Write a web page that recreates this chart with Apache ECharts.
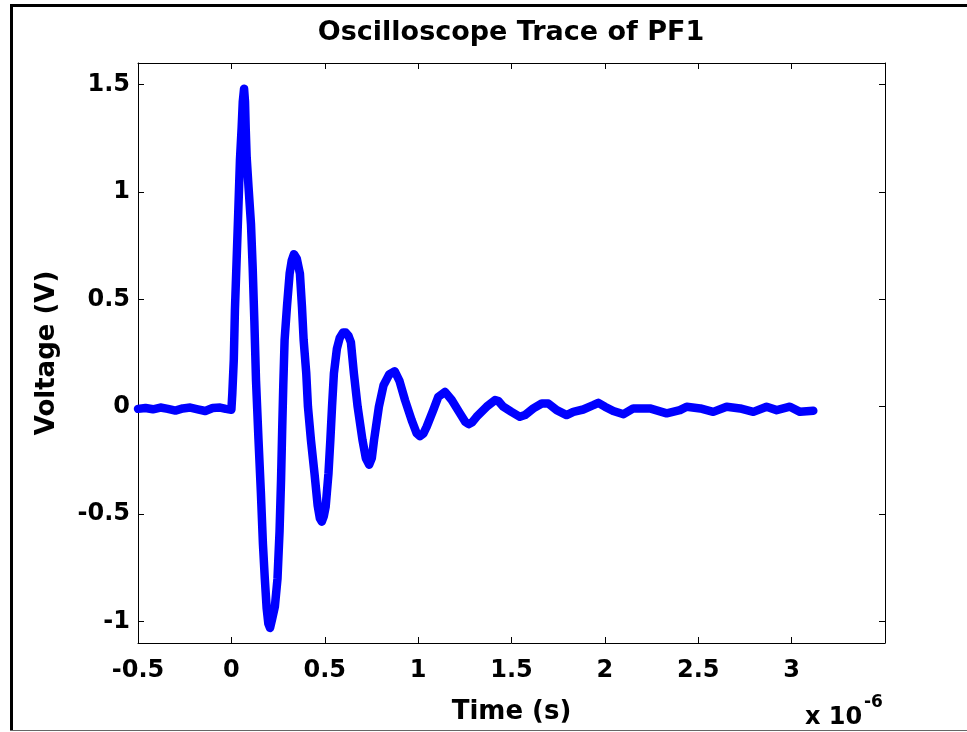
<!DOCTYPE html>
<html lang="en">

<head>
    <meta charset="UTF-8">
    <title>Oscilloscope Trace of PF1</title>
    <script src="https://cdn.jsdelivr.net/npm/echarts@6/dist/echarts.min.js"></script>
    <style>
        html, body { margin: 0; padding: 0; background: #fff; }
        #myChart { width: 967px; height: 732px; }
    </style>
</head>

<body>
    <div id="myChart"></div>
    <script>
        // time in microseconds (axis shows x 10^-6 s), voltage in V
        const timeUs = [
            -0.50, -0.46, -0.42, -0.38, -0.34, -0.30, -0.26, -0.22, -0.18, -0.14, -0.10, -0.06, -0.03,
            0.000, 0.005, 0.013, 0.019, 0.028, 0.037, 0.046, 0.055, 0.061, 0.068, 0.073, 0.077, 0.082,
            0.092, 0.105, 0.114, 0.123, 0.132, 0.145, 0.158, 0.169, 0.179, 0.189, 0.198, 0.207, 0.218,
            0.233, 0.247, 0.258, 0.266, 0.272, 0.278, 0.285, 0.298, 0.312, 0.323, 0.335, 0.350, 0.367,
            0.378, 0.387, 0.401, 0.410, 0.426, 0.445, 0.462, 0.474, 0.484, 0.495, 0.505, 0.520, 0.530,
            0.539, 0.549, 0.565, 0.580, 0.598, 0.612, 0.627, 0.640, 0.656, 0.676, 0.702, 0.720, 0.738,
            0.752, 0.764, 0.790, 0.815, 0.845, 0.875, 0.900, 0.930, 0.965, 0.992, 1.010, 1.028, 1.046,
            1.081, 1.108, 1.144, 1.180, 1.224, 1.252, 1.270, 1.290, 1.313, 1.367, 1.412, 1.430, 1.456,
            1.500, 1.545, 1.572, 1.617, 1.662, 1.697, 1.742, 1.795, 1.831, 1.884, 1.938, 1.965, 2.000,
            2.045, 2.100, 2.152, 2.241, 2.331, 2.402, 2.438, 2.511, 2.580, 2.652, 2.724, 2.795, 2.866,
            2.920, 2.991, 3.045, 3.116
        ];
        const voltage = [
            -0.010, -0.006, -0.012, -0.004, -0.010, -0.018, -0.008, -0.004, -0.012, -0.020, -0.006, -0.004, -0.010,
            -0.014, 0.06, 0.22, 0.45, 0.68, 0.91, 1.15, 1.30, 1.42, 1.48, 1.42, 1.29, 1.16,
            1.02, 0.85, 0.65, 0.40, 0.12, -0.15, -0.40, -0.64, -0.80, -0.94, -1.01, -1.03, -0.99,
            -0.93, -0.80, -0.58, -0.34, -0.11, 0.10, 0.31, 0.47, 0.62, 0.68, 0.71, 0.69, 0.62,
            0.465, 0.31, 0.155, 0.00, -0.155, -0.31, -0.46, -0.52, -0.535, -0.51, -0.465, -0.31, -0.155,
            0.00, 0.155, 0.27, 0.32, 0.345, 0.345, 0.33, 0.30, 0.155, 0.00, -0.155, -0.24, -0.27,
            -0.24, -0.155, 0.00, 0.10, 0.15, 0.165, 0.12, 0.03, -0.062, -0.124, -0.137, -0.125, -0.093,
            -0.016, 0.046, 0.069, 0.031, -0.031, -0.070, -0.081, -0.072, -0.047, 0.000, 0.031, 0.026, 0.000,
            -0.024, -0.047, -0.039, -0.008, 0.015, 0.015, -0.016, -0.039, -0.024, -0.013, 0.007, 0.018, 0.000,
            -0.020, -0.035, -0.008, -0.008, -0.031, -0.016, 0.000, -0.008, -0.024, 0.000, -0.008, -0.024, 0.000,
            -0.016, 0.000, -0.024, -0.019
        ];
        const xTicks = [-0.5, 0, 0.5, 1, 1.5, 2, 2.5, 3];
        const yTicks = [-1, -0.5, 0, 0.5, 1, 1.5];

        var chartDom = document.getElementById('myChart');
        var myChart = echarts.init(chartDom);
        var option;

        const trace = timeUs.map(function (t, i) { return [t, voltage[i]]; });

        const fontName = '"DejaVu Sans", sans-serif';
        const axisBase = {
            type: 'value',
            axisLine: { show: true, onZero: false, lineStyle: { color: '#000', width: 1 } },
            splitLine: { show: false }
        };

        option = {
            backgroundColor: '#fff',
            animation: false,
            textStyle: { fontFamily: fontName, color: '#000' },
            grid: { left: 138, top: 63, right: 82, bottom: 89 },
            xAxis: [
                Object.assign({}, axisBase, {
                    position: 'bottom',
                    min: -0.5,
                    max: 3.5,
                    name: 'Time (s)',
                    nameLocation: 'middle',
                    nameGap: 56,
                    nameTextStyle: { fontSize: 26, fontWeight: 'bold', color: '#000', fontFamily: fontName },
                    axisTick: { show: true, inside: true, length: 6, customValues: xTicks, lineStyle: { color: '#000' } },
                    axisLabel: {
                        customValues: xTicks, margin: 16, fontSize: 24, fontWeight: 'bold', color: '#000',
                        fontFamily: fontName, formatter: function (v) { return String(v); }
                    }
                }),
                Object.assign({}, axisBase, {
                    position: 'top',
                    min: -0.5,
                    max: 3.5,
                    axisTick: { show: true, inside: true, length: 6, customValues: xTicks, lineStyle: { color: '#000' } },
                    axisLabel: { show: false }
                })
            ],
            yAxis: [
                Object.assign({}, axisBase, {
                    position: 'left',
                    min: -1.1,
                    max: 1.6,
                    name: 'Voltage (V)',
                    nameLocation: 'middle',
                    nameGap: 78,
                    nameTextStyle: { fontSize: 26, fontWeight: 'bold', color: '#000', fontFamily: fontName },
                    axisTick: { show: true, inside: true, length: 6, customValues: yTicks, lineStyle: { color: '#000' } },
                    axisLabel: {
                        customValues: yTicks, margin: 8, fontSize: 24, fontWeight: 'bold', color: '#000',
                        fontFamily: fontName, formatter: function (v) { return String(v); }
                    }
                }),
                Object.assign({}, axisBase, {
                    position: 'right',
                    min: -1.1,
                    max: 1.6,
                    axisTick: { show: true, inside: true, length: 6, customValues: yTicks, lineStyle: { color: '#000' } },
                    axisLabel: { show: false }
                })
            ],
            series: [
                {
                    type: 'line',
                    xAxisIndex: 0,
                    yAxisIndex: 0,
                    data: trace,
                    showSymbol: false,
                    symbol: 'none',
                    lineStyle: { color: '#0000ff', width: 8.5, cap: 'round', join: 'round' }
                }
            ],
            graphic: [
                // figure frame lines
                { type: 'rect', shape: { x: 10, y: 4, width: 957, height: 3 }, style: { fill: '#000' } },
                { type: 'rect', shape: { x: 10, y: 4, width: 3, height: 727 }, style: { fill: '#000' } },
                { type: 'rect', shape: { x: 10, y: 730, width: 957, height: 1 }, style: { fill: '#666' } },
                {
                    type: 'text', x: 511, y: 33,
                    style: {
                        text: 'Oscilloscope Trace of PF1', fill: '#000',
                        font: 'bold 27px "DejaVu Sans", sans-serif',
                        textAlign: 'center', textVerticalAlign: 'middle'
                    }
                },
                {
                    type: 'text', x: 805, y: 718,
                    style: {
                        text: 'x 10', fill: '#000',
                        font: 'bold 24px "DejaVu Sans", sans-serif',
                        textAlign: 'left', textVerticalAlign: 'middle'
                    }
                },
                {
                    type: 'text', x: 864, y: 703,
                    style: {
                        text: '-6', fill: '#000',
                        font: 'bold 17px "DejaVu Sans", sans-serif',
                        textAlign: 'left', textVerticalAlign: 'middle'
                    }
                }
            ]
        };

        option && myChart.setOption(option);
    </script>

</body>

</html>
